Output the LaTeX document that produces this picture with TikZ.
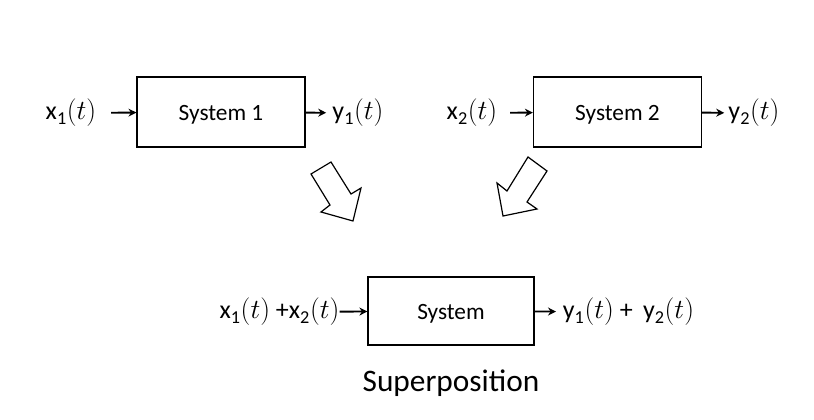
\documentclass[tikz,border=0pt]{standalone}
\usepackage{fontspec}
\setmainfont{Carlito}
\usetikzlibrary{arrows.meta}
\newcommand{\sgl}[2]{#1\textsubscript{#2}$(t)$}
\begin{document}
\begin{tikzpicture}[x=0.75pt, y=-0.75pt,
    sysbox/.style={rectangle, draw, line width=0.9pt, minimum width=126pt, minimum height=52.5pt, inner sep=0pt, text height=13pt, text depth=0pt, font=\fontsize{17.5}{20}\selectfont},
    sig/.style={inner sep=0pt, font=\fontsize{19.5}{22}\selectfont},
    arrow/.style={-{Stealth[length=6pt,width=6pt]}, line width=1.4pt},
    bigarrow/.style={draw, line width=0.9pt, line join=miter}
]
    \useasboundingbox (0,0) rectangle (814,420);

    % first system
    \node[sysbox] (sys1) at (221,112) {System 1};
    \node[sig] (in1) at (71,113) {\sgl{x}{1}};
    \node[sig] (out1) at (358,113) {\sgl{y}{1}};
    \draw[arrow, shorten <=11pt] (in1) -- (sys1);
    \draw[arrow, shorten >=4.5pt] (sys1) -- (out1);

    % second system
    \node[sysbox] (sys2) at (617.5,112) {System 2};
    \node[sig] (in2) at (472,113) {\sgl{x}{2}};
    \node[sig] (out2) at (754,113) {\sgl{y}{2}};
    \draw[arrow, shorten <=9.5pt] (in2) -- (sys2);
    \draw[arrow, shorten >=3pt] (sys2) -- (out2);

    % block arrows
    \draw[bigarrow] (311,174) -- (331,162) -- (351,194) -- (361,188) -- (353,221) -- (321,212) -- (330,205) -- cycle;
    \draw[bigarrow] (528,157) -- (547,171) -- (527,202) -- (537,209) -- (503,216) -- (497,183) -- (507,191) -- cycle;

    % combined system
    \node[sysbox, minimum width=124.5pt, minimum height=51pt] (sys) at (451,311) {System};
    \node[sig] (in) at (279.5,312) {\sgl{x}{1} +\sgl{x}{2}};
    \node[sig] (out) at (628.5,312) {\sgl{y}{1} +\, \sgl{y}{2}};
    \draw[arrow] (in) -- (sys);
    \draw[arrow, shorten >=5pt] (sys) -- (out);

    \node[font=\fontsize{23.5}{28}\selectfont] (title) at (451,383) {Superposition};
\end{tikzpicture}
\end{document}
